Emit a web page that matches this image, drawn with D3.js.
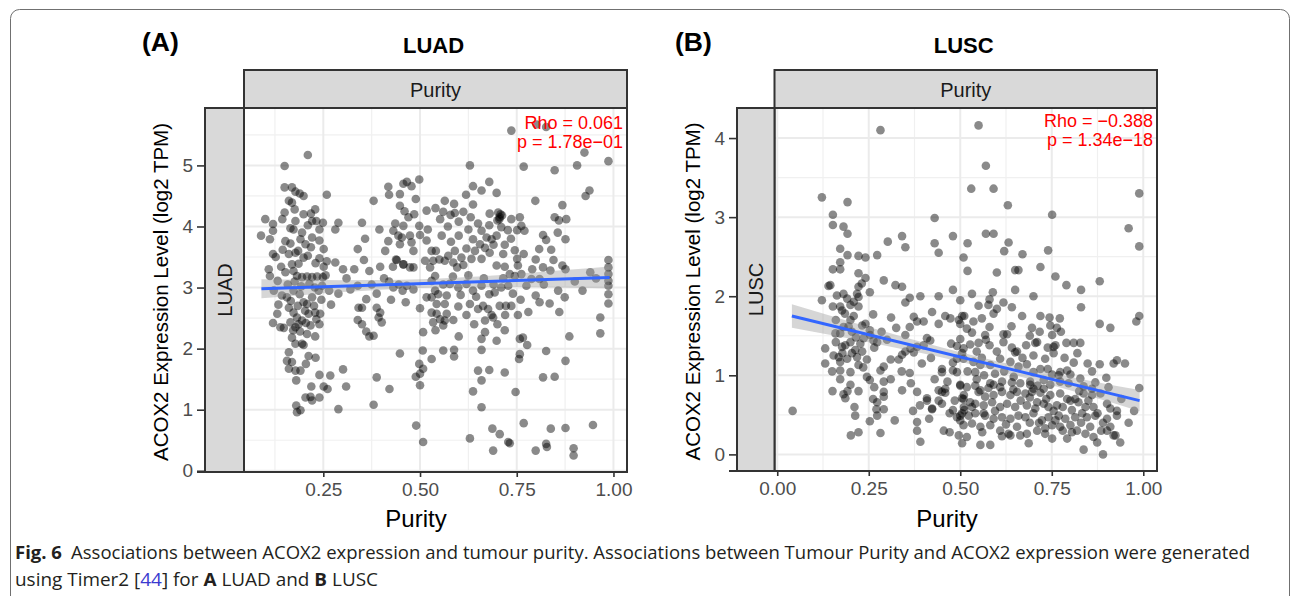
<!DOCTYPE html>
<html>
<head>
<meta charset="utf-8">
<script src="https://cdn.jsdelivr.net/npm/d3@7"></script>
<style>
  body { margin: 0; background: #fff; }
  svg { display: block; }
</style>
</head>
<body>
<div id="chart"></div>
<script>

// ---- data ----
// [purity, ACOX2 log2 TPM]
var luadPoints = [
  [0.210,5.17],[0.150,4.99],[0.150,4.64],[0.169,4.64],[0.178,4.57],[0.189,4.54],[0.199,4.50],[0.259,4.52],
  [0.161,4.42],[0.169,4.39],[0.229,4.28],[0.150,4.23],[0.199,4.20],[0.218,4.21],[0.100,4.12],[0.120,4.04],
  [0.120,3.93],[0.178,4.09],[0.165,3.97],[0.173,3.95],[0.221,4.09],[0.249,4.06],[0.232,4.09],[0.289,4.06],
  [0.281,3.95],[0.350,4.06],[0.380,4.42],[0.358,3.80],[0.339,3.63],[0.089,3.85],[0.112,3.79],[0.120,3.55],
  [0.152,3.76],[0.165,3.72],[0.191,3.79],[0.204,3.71],[0.218,3.66],[0.221,3.82],[0.240,3.77],[0.251,3.63],
  [0.178,3.57],[0.161,3.55],[0.199,3.49],[0.186,3.39],[0.240,3.48],[0.259,3.43],[0.251,3.34],[0.281,3.41],
  [0.141,3.34],[0.169,3.38],[0.173,3.27],[0.152,3.25],[0.301,3.30],[0.109,3.30],[0.112,3.19],[0.132,3.11],
  [0.182,3.19],[0.195,3.17],[0.208,3.18],[0.221,3.17],[0.234,3.18],[0.249,3.17],[0.369,3.27],[0.397,3.34],
  [0.407,3.15],[0.430,3.34],[0.440,3.45],[0.457,3.38],[0.474,3.33],[0.339,3.03],[0.320,2.97],[0.388,2.90],
  [0.431,3.00],[0.466,3.03],[0.483,2.97],[0.122,2.95],[0.143,2.87],[0.156,2.84],[0.173,2.95],[0.189,2.89],
  [0.199,2.76],[0.208,2.73],[0.221,2.84],[0.238,2.95],[0.247,3.03],[0.289,2.90],[0.361,2.81],[0.341,2.67],
  [0.350,2.67],[0.388,2.67],[0.397,2.59],[0.393,2.51],[0.401,2.43],[0.161,2.67],[0.173,2.59],[0.182,2.51],
  [0.165,2.43],[0.186,2.40],[0.178,2.35],[0.195,2.46],[0.212,2.57],[0.229,2.59],[0.242,2.57],[0.240,2.40],
  [0.217,2.38],[0.208,2.24],[0.229,2.20],[0.195,2.08],[0.199,2.06],[0.131,2.57],[0.120,2.42],[0.139,2.35],
  [0.148,2.34],[0.339,2.47],[0.350,2.40],[0.361,2.28],[0.369,2.20],[0.380,2.21],[0.169,2.18],[0.178,2.08],
  [0.212,1.88],[0.161,1.94],[0.156,1.80],[0.169,1.78],[0.178,1.64],[0.191,1.64],[0.161,1.67],[0.180,1.48],
  [0.240,1.57],[0.268,1.56],[0.301,1.66],[0.219,1.38],[0.251,1.38],[0.261,1.34],[0.309,1.38],[0.388,1.53],
  [0.421,1.34],[0.204,1.20],[0.217,1.21],[0.240,1.20],[0.221,1.15],[0.180,1.07],[0.182,0.96],[0.191,0.99],
  [0.289,1.01],[0.380,1.08],[0.448,1.92],[0.490,0.74],[0.508,0.47],[0.489,1.54],[0.500,1.59],[0.508,1.67],
  [0.498,1.75],[0.507,1.97],[0.500,1.40],[0.418,4.65],[0.457,4.70],[0.466,4.73],[0.478,4.66],[0.498,4.77],
  [0.420,4.52],[0.448,4.53],[0.448,4.34],[0.489,4.45],[0.470,4.15],[0.517,4.26],[0.436,4.05],[0.457,4.01],
  [0.474,3.85],[0.498,4.01],[0.431,3.93],[0.444,3.85],[0.453,3.82],[0.418,3.76],[0.448,3.71],[0.478,3.74],
  [0.483,3.60],[0.500,3.86],[0.517,3.77],[0.438,3.46],[0.457,3.38],[0.483,3.33],[0.513,3.44],[0.463,2.76],
  [0.500,2.66],[0.508,2.27],[0.517,2.84],[0.530,3.60],
  [0.736,5.57],[0.801,5.67],[0.826,5.63],[0.925,5.21],[0.987,5.07],[0.906,5.00],[0.848,4.92],[0.768,4.98],
  [0.629,5.00],[0.679,4.73],[0.637,4.66],[0.659,4.59],[0.698,4.55],[0.619,4.52],[0.938,4.59],[0.928,4.50],
  [0.798,4.42],[0.868,4.35],[0.564,4.42],[0.588,4.37],[0.637,4.36],[0.612,4.24],[0.631,4.15],[0.590,4.22],
  [0.579,4.19],[0.560,4.24],[0.552,4.12],[0.680,4.21],[0.702,4.23],[0.706,4.15],[0.708,4.20],[0.705,4.12],
  [0.736,4.12],[0.758,4.15],[0.762,4.01],[0.751,3.94],[0.770,3.93],[0.848,4.15],[0.859,4.10],[0.878,4.12],
  [0.856,3.90],[0.876,3.79],[0.818,3.86],[0.826,3.78],[0.839,3.62],[0.679,4.02],[0.710,3.99],[0.727,3.94],
  [0.659,3.93],[0.672,3.82],[0.685,3.79],[0.698,3.85],[0.637,3.79],[0.655,3.71],[0.620,3.64],[0.642,3.60],
  [0.590,3.60],[0.573,3.52],[0.607,3.49],[0.633,3.47],[0.659,3.47],[0.680,3.57],[0.719,3.70],[0.745,3.61],
  [0.768,3.55],[0.751,3.47],[0.541,3.60],[0.550,3.46],[0.534,3.44],[0.526,3.33],[0.564,3.44],[0.586,3.41],
  [0.596,3.33],[0.612,3.37],[0.698,3.36],[0.719,3.34],[0.753,3.36],[0.732,3.22],[0.762,3.22],[0.799,3.46],
  [0.808,3.63],[0.818,3.33],[0.837,3.28],[0.868,3.36],[0.876,3.30],[0.987,3.45],[0.987,3.33],[0.987,3.22],
  [0.987,3.11],[0.987,3.03],[0.987,2.89],[0.987,2.74],[0.966,2.51],[0.966,2.25],[0.886,2.20],[0.539,3.19],
  [0.539,2.95],[0.530,3.11],[0.577,3.06],[0.599,3.00],[0.620,3.06],[0.637,2.95],[0.659,3.03],[0.679,2.89],
  [0.693,2.92],[0.710,3.00],[0.728,3.03],[0.745,3.19],[0.775,3.03],[0.788,3.14],[0.809,3.14],[0.799,2.87],
  [0.809,2.76],[0.835,2.74],[0.857,2.95],[0.874,2.84],[0.530,2.84],[0.547,2.89],[0.543,2.73],[0.569,2.87],
  [0.564,2.73],[0.599,2.69],[0.629,2.73],[0.650,2.65],[0.663,2.70],[0.676,2.65],[0.685,2.55],[0.706,2.70],
  [0.722,2.70],[0.736,2.70],[0.753,2.55],[0.530,2.59],[0.543,2.57],[0.552,2.48],[0.534,2.43],[0.569,2.57],
  [0.564,2.46],[0.586,2.47],[0.560,2.38],[0.668,2.46],[0.689,2.51],[0.668,2.27],[0.659,2.16],[0.698,2.13],
  [0.719,2.30],[0.758,2.16],[0.766,2.18],[0.758,1.91],[0.756,1.83],[0.777,2.06],[0.560,1.97],[0.588,1.98],
  [0.588,1.87],[0.530,1.83],[0.659,1.98],[0.826,1.96],[0.876,1.80],[0.650,1.64],[0.679,1.65],[0.659,1.48],
  [0.719,1.61],[0.637,1.30],[0.818,1.53],[0.848,1.54],[0.747,1.29],[0.659,1.04],[0.768,0.78],[0.687,0.69],
  [0.706,0.60],[0.732,0.45],[0.728,0.47],[0.629,0.53],[0.689,0.33],[0.799,0.33],[0.826,0.44],[0.828,0.39],
  [0.838,0.69],[0.876,0.70],[0.947,0.75],[0.897,0.37],[0.897,0.25],
  // denser clusters
  [0.158,3.05],[0.176,3.10],[0.193,3.02],[0.214,3.06],[0.228,3.00],[0.166,2.78],[0.184,2.70],[0.203,2.62],
  [0.226,2.70],[0.245,2.80],[0.172,2.30],[0.190,2.28],[0.205,2.42],[0.232,2.48],[0.185,3.60],[0.210,3.52],
  [0.230,3.40],[0.145,3.62],[0.195,3.90],[0.210,4.02],[0.240,3.95],[0.176,4.28],[0.144,4.12],[0.256,3.20],
  [0.265,2.95],[0.270,2.72],[0.134,2.72],[0.127,3.50],[0.205,1.75],[0.230,1.85],
  [0.560,3.05],[0.585,3.18],[0.605,2.88],[0.625,3.20],[0.645,2.85],[0.665,3.15],[0.690,3.05],[0.715,3.15],
  [0.740,2.90],[0.760,2.80],[0.580,3.75],[0.600,3.85],[0.625,3.95],[0.650,4.05],[0.668,3.65],[0.690,3.70],
  [0.715,3.55],[0.735,3.80],[0.700,4.10],[0.712,4.18],[0.556,3.85],[0.572,4.00],[0.600,4.08],[0.540,4.30],
  [0.620,2.55],[0.640,2.40],[0.700,2.40],[0.720,2.55],[0.780,2.60],[0.790,3.30],[0.820,3.05],[0.845,3.45],
  [0.860,2.60],[0.900,3.10],[0.920,2.95],[0.940,3.25],[0.955,3.15],[0.520,3.95],[0.540,2.30],[0.600,2.20],
  [0.310,3.15],[0.330,3.30],[0.355,3.45],[0.375,3.05],[0.420,3.10],[0.425,2.80],[0.445,3.05],[0.455,2.95],
  [0.410,3.60],[0.395,3.95],[0.460,4.25],[0.485,4.20]
];

var luscPoints = [
  [0.282,4.10],[0.122,3.25],[0.192,3.19],[0.152,3.03],[0.152,2.90],[0.181,2.88],[0.192,2.79],[0.430,2.99],
  [0.480,2.76],[0.302,2.69],[0.341,2.76],[0.350,2.62],[0.430,2.67],[0.441,2.55],[0.172,2.60],[0.192,2.52],
  [0.222,2.51],[0.241,2.49],[0.273,2.52],[0.172,2.43],[0.152,2.34],[0.172,2.34],[0.222,2.29],[0.241,2.23],
  [0.231,2.16],[0.291,2.20],[0.145,2.14],[0.140,2.13],[0.163,2.01],[0.181,2.03],[0.191,1.97],[0.222,2.12],
  [0.218,2.03],[0.222,1.99],[0.253,2.05],[0.323,2.14],[0.341,2.12],[0.362,1.98],[0.350,1.92],[0.391,2.00],
  [0.441,2.00],[0.480,2.08],[0.122,1.95],[0.152,1.87],[0.172,1.87],[0.177,1.82],[0.200,1.89],[0.209,1.93],
  [0.222,1.87],[0.209,1.75],[0.262,1.77],[0.311,1.73],[0.373,1.74],[0.382,1.68],[0.400,1.68],[0.423,1.80],
  [0.441,1.65],[0.459,1.75],[0.473,1.72],[0.496,1.70],[0.505,1.75],[0.159,1.53],[0.172,1.53],[0.181,1.61],
  [0.200,1.70],[0.204,1.55],[0.232,1.63],[0.241,1.65],[0.253,1.57],[0.236,1.47],[0.227,1.40],[0.254,1.51],
  [0.263,1.44],[0.273,1.42],[0.200,1.42],[0.213,1.32],[0.186,1.38],[0.177,1.36],[0.204,1.28],[0.218,1.23],
  [0.232,1.30],[0.131,1.34],[0.154,1.25],[0.168,1.23],[0.172,1.17],[0.191,1.21],[0.131,1.15],[0.172,1.06],
  [0.200,1.04],[0.222,1.13],[0.172,0.95],[0.245,0.98],[0.253,0.94],[0.282,1.06],[0.291,1.11],[0.332,1.20],
  [0.341,1.26],[0.350,1.51],[0.362,1.61],[0.350,1.30],[0.364,1.34],[0.373,1.29],[0.382,1.36],[0.400,1.38],
  [0.409,1.47],[0.418,1.44],[0.362,1.03],[0.341,0.81],[0.382,0.79],[0.409,0.71],[0.423,0.57],[0.409,0.68],
  [0.441,0.81],[0.450,0.79],[0.459,0.78],[0.441,0.68],[0.450,0.64],[0.459,0.83],[0.450,1.04],[0.450,1.08],
  [0.480,1.06],[0.491,1.04],[0.480,1.16],[0.491,1.21],[0.505,1.28],[0.491,1.37],[0.151,0.80],[0.181,0.76],
  [0.186,0.71],[0.192,0.80],[0.222,0.80],[0.291,0.92],[0.291,0.79],[0.291,0.73],[0.262,0.70],[0.273,0.66],
  [0.271,0.57],[0.291,0.57],[0.042,0.55],[0.211,0.60],[0.213,0.49],[0.253,0.42],[0.273,0.49],[0.321,0.43],
  [0.371,0.55],[0.382,0.41],[0.382,0.30],[0.391,0.16],[0.423,0.58],[0.201,0.24],[0.222,0.28],[0.282,0.27],
  [0.471,0.52],[0.480,0.56],[0.491,0.47],[0.505,0.52],[0.500,0.43],[0.471,0.28],[0.496,0.24],[0.505,0.14],
  [0.510,0.75],[0.505,0.71],[0.500,0.88],[0.510,0.60],
  [0.550,4.16],[0.570,3.65],[0.530,3.36],[0.591,3.36],[0.630,3.15],[0.751,3.03],[0.989,3.30],[0.960,2.86],
  [0.989,2.63],[0.570,2.79],[0.591,2.79],[0.632,2.68],[0.620,2.57],[0.670,2.53],[0.740,2.58],[0.719,2.37],
  [0.520,2.67],[0.509,2.49],[0.520,2.32],[0.650,2.33],[0.659,2.33],[0.650,2.08],[0.790,2.14],[0.830,2.08],
  [0.881,2.19],[0.830,1.86],[0.532,2.03],[0.589,2.05],[0.580,1.96],[0.550,1.88],[0.577,1.89],[0.600,1.84],
  [0.618,1.92],[0.641,1.86],[0.591,1.78],[0.500,1.95],[0.511,1.75],[0.500,1.65],[0.518,1.59],[0.536,1.68],
  [0.559,1.72],[0.568,1.51],[0.580,1.61],[0.669,1.75],[0.719,1.75],[0.744,1.73],[0.772,1.72],[0.746,1.63],
  [0.764,1.60],[0.696,1.60],[0.717,1.55],[0.751,1.51],[0.775,1.55],[0.790,1.41],[0.810,1.41],[0.828,1.41],
  [0.881,1.65],[0.910,1.60],[0.981,1.68],[0.989,1.75],[0.500,1.46],[0.532,1.54],[0.527,1.39],[0.509,1.34],
  [0.550,1.41],[0.580,1.38],[0.618,1.52],[0.628,1.52],[0.618,1.42],[0.641,1.35],[0.650,1.29],[0.655,1.30],
  [0.680,1.38],[0.705,1.41],[0.710,1.42],[0.739,1.35],[0.755,1.36],[0.760,1.38],[0.732,1.21],[0.755,1.28],
  [0.509,1.21],[0.536,1.17],[0.559,1.22],[0.555,1.13],[0.541,1.04],[0.582,1.13],[0.609,1.21],[0.637,1.17],
  [0.659,1.11],[0.682,1.14],[0.700,1.04],[0.719,1.08],[0.739,1.08],[0.751,1.01],[0.773,1.04],[0.792,1.06],
  [0.810,1.16],[0.848,1.15],[0.881,1.14],[0.919,1.15],[0.928,1.19],[0.899,0.97],[0.989,0.84],[0.500,0.87],
  [0.518,0.85],[0.541,0.87],[0.555,0.81],[0.577,0.84],[0.591,0.88],[0.614,0.92],[0.641,0.91],[0.664,0.90],
  [0.691,0.92],[0.711,0.87],[0.728,0.83],[0.746,0.88],[0.773,0.92],[0.796,0.90],[0.550,0.79],[0.568,0.73],
  [0.591,0.75],[0.614,0.79],[0.637,0.75],[0.655,0.79],[0.678,0.77],[0.696,0.79],[0.700,0.83],[0.746,0.75],
  [0.773,0.77],[0.792,0.70],[0.814,0.70],[0.837,0.77],[0.860,0.75],[0.883,0.77],[0.509,0.70],[0.527,0.66],
  [0.541,0.64],[0.564,0.62],[0.587,0.66],[0.609,0.60],[0.628,0.64],[0.650,0.60],[0.682,0.62],[0.710,0.66],
  [0.728,0.64],[0.741,0.60],[0.764,0.62],[0.801,0.68],[0.823,0.66],[0.842,0.60],[0.864,0.60],[0.901,0.64],
  [0.910,0.58],[0.928,0.55],[0.500,0.49],[0.523,0.49],[0.541,0.52],[0.568,0.49],[0.591,0.45],[0.614,0.47],
  [0.637,0.45],[0.659,0.49],[0.678,0.47],[0.700,0.52],[0.723,0.43],[0.741,0.47],[0.769,0.49],[0.787,0.45],
  [0.814,0.47],[0.833,0.52],[0.846,0.47],[0.869,0.49],[0.901,0.45],[0.928,0.49],[0.509,0.37],[0.532,0.39],
  [0.555,0.35],[0.582,0.37],[0.609,0.30],[0.632,0.26],[0.664,0.24],[0.682,0.26],[0.710,0.30],[0.732,0.33],
  [0.751,0.37],[0.773,0.35],[0.801,0.37],[0.819,0.30],[0.842,0.26],[0.864,0.22],[0.901,0.30],[0.919,0.24],
  [0.518,0.22],[0.555,0.12],[0.582,0.12],[0.614,0.23],[0.637,0.24],[0.687,0.14],[0.732,0.26],[0.751,0.20],
  [0.792,0.20],[0.837,0.06],[0.874,0.15],[0.937,0.15],[0.890,0.00],[0.924,0.24],[0.511,0.56],[0.532,0.60],
  [0.564,0.52],[0.582,0.90],[0.609,0.85],[0.646,0.98],[0.691,0.88],[0.719,0.78],[0.728,0.94],[0.769,1.00],
  [0.801,1.01],[0.828,0.96],[0.860,0.83],[0.869,0.91],[0.837,0.86],
  // denser clusters
  [0.160,1.70],[0.185,1.78],[0.195,1.62],[0.215,1.48],[0.160,1.42],[0.178,1.28],[0.245,1.20],[0.265,1.35],
  [0.285,1.55],[0.300,1.45],[0.310,1.20],[0.235,1.10],[0.150,1.05],[0.200,0.88],[0.265,0.85],[0.310,0.95],
  [0.325,1.60],[0.340,1.05],[0.365,0.90],[0.395,1.15],[0.420,1.22],[0.430,0.95],[0.465,0.92],[0.475,1.40],
  [0.390,0.62],[0.415,0.45],[0.455,0.30],[0.485,0.68],
  [0.520,1.05],[0.545,0.95],[0.565,1.00],[0.595,1.02],[0.620,1.05],[0.645,0.82],[0.665,0.68],[0.690,0.72],
  [0.705,0.58],[0.735,0.70],[0.755,0.55],[0.780,0.60],[0.805,0.56],[0.825,0.80],[0.850,0.68],[0.875,0.52],
  [0.890,0.40],[0.910,0.35],[0.560,0.28],[0.595,0.55],[0.625,0.38],[0.655,0.35],[0.690,0.40],[0.715,0.40],
  [0.760,0.43],[0.780,0.30],[0.805,0.28],[0.830,0.40],[0.855,0.35],[0.885,0.30],[0.545,1.30],[0.600,1.30],
  [0.670,1.22],[0.700,1.25],[0.785,1.22],[0.820,1.28],[0.860,1.05],[0.905,0.85],[0.940,0.70],[0.960,0.40],
  [0.570,1.45],[0.640,1.62],[0.690,1.50],[0.600,2.30],[0.700,2.00],[0.760,2.25],[0.950,1.15],[0.975,0.55]
];

// fitted line (lm) ends and its confidence band
var luadFitX = [0.09, 0.99];
var luadFitY = [2.98, 3.165];
var luadBandX  = [0.09, 0.2, 0.3, 0.4, 0.5, 0.6, 0.7, 0.8, 0.9, 0.99];
var luadBandLo = [2.824, 2.880, 2.926, 2.966, 2.994, 3.007, 3.008, 3.003, 2.995, 2.985];
var luadBandHi = [3.136, 3.126, 3.120, 3.122, 3.134, 3.163, 3.202, 3.249, 3.299, 3.345];

var luscFitX = [0.04, 0.99];
var luscFitY = [1.75, 0.68];
var luscBandX  = [0.04, 0.15, 0.25, 0.35, 0.45, 0.55, 0.65, 0.75, 0.85, 0.99];
var luscBandLo = [1.600, 1.506, 1.418, 1.323, 1.224, 1.116, 0.999, 0.873, 0.742, 0.547];
var luscBandHi = [1.900, 1.746, 1.610, 1.479, 1.352, 1.236, 1.127, 1.029, 0.934, 0.813];

var luadXTicks = [0.25, 0.50, 0.75, 1.00];
var luadYTicks = [0, 1, 2, 3, 4, 5];
var luscXTicks = [0.00, 0.25, 0.50, 0.75, 1.00];
var luscYTicks = [0, 1, 2, 3, 4];

var luadStats = ["Rho = 0.061", "p = 1.78e\u221201"];
var luscStats = ["Rho = \u22120.388", "p = 1.34e\u221218"];

var FONT = "'Liberation Sans', Arial, Helvetica, sans-serif";

var svg = d3.select("#chart").append("svg")
    .attr("width", 1298)
    .attr("height", 596);

// outer rounded frame of the figure box
svg.append("rect")
    .attr("x", 10.5).attr("y", 9.5)
    .attr("width", 1279).attr("height", 640)
    .attr("rx", 9)
    .attr("fill", "none")
    .attr("stroke", "#707070")
    .attr("stroke-width", 1);

/*
 * ScatterPanel - one TIMER style facet (title, strips, points, lm fit)
 */
ScatterPanel = function(_svg, _opts){
    this.svg = _svg;
    this.opts = _opts;
    this.initVis();
}

ScatterPanel.prototype.initVis = function(){
    var vis = this, o = vis.opts;

    vis.x = d3.scaleLinear().domain(o.xDomain).range([o.left, o.right]);
    vis.y = d3.scaleLinear().domain(o.yDomain).range([o.bottom, o.top]);

    vis.g = vis.svg.append("g");

    // panel background
    vis.g.append("rect")
        .attr("x", o.left).attr("y", o.top)
        .attr("width", o.right - o.left).attr("height", o.bottom - o.top)
        .attr("fill", "#fff");

    // minor grid = midpoints between the breaks
    var xMinor = minors(o.xTicks, o.xDomain), yMinor = minors(o.yTicks, o.yDomain);

    vis.g.selectAll(".xminor").data(xMinor).enter().append("line")
        .attr("x1", function(d){ return vis.x(d); }).attr("x2", function(d){ return vis.x(d); })
        .attr("y1", o.top).attr("y2", o.bottom)
        .attr("stroke", "#f0f0f0").attr("stroke-width", 1.2);
    vis.g.selectAll(".yminor").data(yMinor).enter().append("line")
        .attr("y1", function(d){ return vis.y(d); }).attr("y2", function(d){ return vis.y(d); })
        .attr("x1", o.left).attr("x2", o.right)
        .attr("stroke", "#f0f0f0").attr("stroke-width", 1.2);

    vis.g.selectAll(".xmajor").data(o.xTicks).enter().append("line")
        .attr("x1", function(d){ return vis.x(d); }).attr("x2", function(d){ return vis.x(d); })
        .attr("y1", o.top).attr("y2", o.bottom)
        .attr("stroke", "#ebebeb").attr("stroke-width", 2);
    vis.g.selectAll(".ymajor").data(o.yTicks).enter().append("line")
        .attr("y1", function(d){ return vis.y(d); }).attr("y2", function(d){ return vis.y(d); })
        .attr("x1", o.left).attr("x2", o.right)
        .attr("stroke", "#ebebeb").attr("stroke-width", 2);

    vis.updateVis();
}

ScatterPanel.prototype.updateVis = function(){
    var vis = this, o = vis.opts;

    var clipId = "clip-" + o.name;
    vis.svg.append("clipPath").attr("id", clipId).append("rect")
        .attr("x", o.left).attr("y", o.top)
        .attr("width", o.right - o.left).attr("height", o.bottom - o.top);

    var plot = vis.g.append("g").attr("clip-path", "url(#" + clipId + ")");

    // points
    plot.selectAll("circle")
        .data(o.points)
        .enter().append("circle")
        .attr("cx", function(d){ return vis.x(d[0]); })
        .attr("cy", function(d){ return vis.y(d[1]); })
        .attr("r", 4.3)
        .attr("fill", "#000")
        .attr("fill-opacity", 0.46);

    // confidence band
    var area = d3.area()
        .x(function(d, i){ return vis.x(o.bandX[i]); })
        .y0(function(d, i){ return vis.y(o.bandLo[i]); })
        .y1(function(d, i){ return vis.y(o.bandHi[i]); })
        .curve(d3.curveMonotoneX);
    plot.append("path")
        .attr("d", area(o.bandX))
        .attr("fill", "#999999")
        .attr("fill-opacity", 0.4);

    // fitted line
    var line = d3.line()
        .x(function(d, i){ return vis.x(o.fitX[i]); })
        .y(function(d, i){ return vis.y(o.fitY[i]); });
    plot.append("path")
        .attr("d", line(o.fitX))
        .attr("fill", "none")
        .attr("stroke", "#3366FF")
        .attr("stroke-width", 3);

    // correlation text
    var stat = vis.g.append("text")
        .attr("text-anchor", "end")
        .attr("font-family", FONT)
        .attr("font-size", 18)
        .attr("fill", "#ff0000");
    stat.selectAll("tspan").data(o.stats).enter().append("tspan")
        .attr("x", o.right - 4)
        .attr("y", function(d, i){ return o.statY + i * 18.5; })
        .text(function(d){ return d; });

    // panel border
    vis.g.append("rect")
        .attr("x", o.left).attr("y", o.top)
        .attr("width", o.right - o.left).attr("height", o.bottom - o.top)
        .attr("fill", "none").attr("stroke", "#333").attr("stroke-width", 2);

    // top strip
    vis.g.append("rect")
        .attr("x", o.left).attr("y", o.stripTop)
        .attr("width", o.right - o.left).attr("height", o.top - o.stripTop)
        .attr("fill", "#d9d9d9").attr("stroke", "#333").attr("stroke-width", 2);
    vis.g.append("text")
        .attr("x", (o.left + o.right) / 2).attr("y", o.stripTop + 26.5)
        .attr("text-anchor", "middle")
        .attr("font-family", FONT).attr("font-size", 20).attr("fill", "#1a1a1a")
        .text("Purity");

    // left strip (switched y facet)
    vis.g.append("rect")
        .attr("x", o.stripLeft).attr("y", o.top)
        .attr("width", o.left - o.stripLeft).attr("height", o.bottom - o.top)
        .attr("fill", "#d9d9d9").attr("stroke", "#333").attr("stroke-width", 2);
    vis.g.append("text")
        .attr("transform", "translate(" + ((o.stripLeft + o.left) / 2 + 7) + "," + ((o.top + o.bottom) / 2) + ") rotate(-90)")
        .attr("text-anchor", "middle")
        .attr("font-family", FONT).attr("font-size", 20).attr("fill", "#1a1a1a")
        .text(o.name);

    // y axis (outside the strip)
    var yAxis = vis.g.append("g")
        .attr("transform", "translate(" + o.stripLeft + ",0)")
        .call(d3.axisLeft(vis.y).tickValues(o.yTicks).tickSize(8).tickPadding(4).tickFormat(d3.format("d")));
    yAxis.select(".domain").remove();
    yAxis.selectAll(".tick line").attr("stroke", "#333").attr("stroke-width", 1.6);
    yAxis.selectAll(".tick text").attr("font-family", FONT).attr("font-size", 19).attr("fill", "#4d4d4d");

    // x axis
    var xAxis = vis.g.append("g")
        .attr("transform", "translate(0," + o.bottom + ")")
        .call(d3.axisBottom(vis.x).tickValues(o.xTicks).tickSize(5).tickPadding(6).tickFormat(d3.format(".2f")));
    xAxis.select(".domain").remove();
    xAxis.selectAll(".tick line").attr("stroke", "#333").attr("stroke-width", 1.6);
    xAxis.selectAll(".tick text").attr("font-family", FONT).attr("font-size", 19).attr("fill", "#4d4d4d");

    // bottom line under the left strip as well
    vis.g.append("line")
        .attr("x1", o.stripLeft - 8).attr("x2", o.left)
        .attr("y1", o.bottom).attr("y2", o.bottom)
        .attr("stroke", "#333").attr("stroke-width", 2);

    // titles
    vis.g.append("text")
        .attr("x", (o.stripLeft + o.right) / 2).attr("y", 527)
        .attr("text-anchor", "middle")
        .attr("font-family", FONT).attr("font-size", 24).attr("fill", "#000")
        .text("Purity");

    vis.g.append("text")
        .attr("transform", "translate(" + o.yLabelX + "," + ((o.top + o.bottom) / 2 + 2) + ") rotate(-90)")
        .attr("text-anchor", "middle")
        .attr("font-family", FONT).attr("font-size", 20.5).attr("fill", "#000")
        .text("ACOX2 Expression Level (log2 TPM)");

    vis.g.append("text")
        .attr("x", (o.left + o.right) / 2 - 2).attr("y", 53)
        .attr("text-anchor", "middle")
        .attr("font-family", FONT).attr("font-size", 22).attr("font-weight", "bold").attr("fill", "#000")
        .text(o.name);

    vis.g.append("text")
        .attr("x", o.tagX).attr("y", 51)
        .attr("font-family", FONT).attr("font-size", 26.5).attr("font-weight", "bold").attr("fill", "#000")
        .text(o.tag);
}

function minors(ticks, domain){
    var step = ticks[1] - ticks[0], out = [];
    out.push(ticks[0] - step / 2);
    ticks.forEach(function(t){ out.push(t + step / 2); });
    return out.filter(function(v){ return v > domain[0] && v < domain[1]; });
}

new ScatterPanel(svg, {
    name: "LUAD", tag: "(A)", tagX: 142,
    points: luadPoints,
    fitX: luadFitX, fitY: luadFitY,
    bandX: luadBandX, bandLo: luadBandLo, bandHi: luadBandHi,
    xTicks: luadXTicks, yTicks: luadYTicks, stats: luadStats,
    xDomain: [0.045, 1.035], yDomain: [-0.02, 5.94],
    left: 244, right: 627, top: 108, bottom: 472,
    stripTop: 70, stripLeft: 205, yLabelX: 168, statY: 129
});

new ScatterPanel(svg, {
    name: "LUSC", tag: "(B)", tagX: 675,
    points: luscPoints,
    fitX: luscFitX, fitY: luscFitY,
    bandX: luscBandX, bandLo: luscBandLo, bandHi: luscBandHi,
    xTicks: luscXTicks, yTicks: luscYTicks, stats: luscStats,
    xDomain: [-0.0075, 1.0375], yDomain: [-0.21, 4.38],
    left: 774.5, right: 1157, top: 108, bottom: 471,
    stripTop: 70, stripLeft: 737, yLabelX: 700, statY: 127
});

// ---- caption ----
var CAPFONT = "'Open Sans', 'Noto Sans', sans-serif";
var CAPSIZE = 18.3;
var capLine1 = [
    {t: "Fig. 6", b: true},
    {t: "Associations between ACOX2 expression and tumour purity. Associations between Tumour Purity and ACOX2 expression were generated", dx: 9}
];
var capLine2 = [
    {t: "using Timer2 ["}, {t: "44", c: "#3a3acf"}, {t: "] for "}, {t: "A", b: true},
    {t: " LUAD and "}, {t: "B", b: true}, {t: " LUSC"}
];

function caption(parts, y, fullWidth){
    var txt = svg.append("text")
        .attr("x", 15).attr("y", y)
        .attr("font-family", CAPFONT).attr("font-size", CAPSIZE).attr("fill", "#231f20")
        .attr("textLength", fullWidth).attr("lengthAdjust", "spacingAndGlyphs");
    parts.forEach(function(p){
        txt.append("tspan")
            .attr("dx", p.dx || 0)
            .attr("font-weight", p.b ? "bold" : "normal")
            .attr("fill", p.c || "#231f20")
            .text(p.t);
    });
    return txt;
}

caption(capLine1, 559, 1235);
caption(capLine2, 586, 363);

</script>
</body>
</html>
